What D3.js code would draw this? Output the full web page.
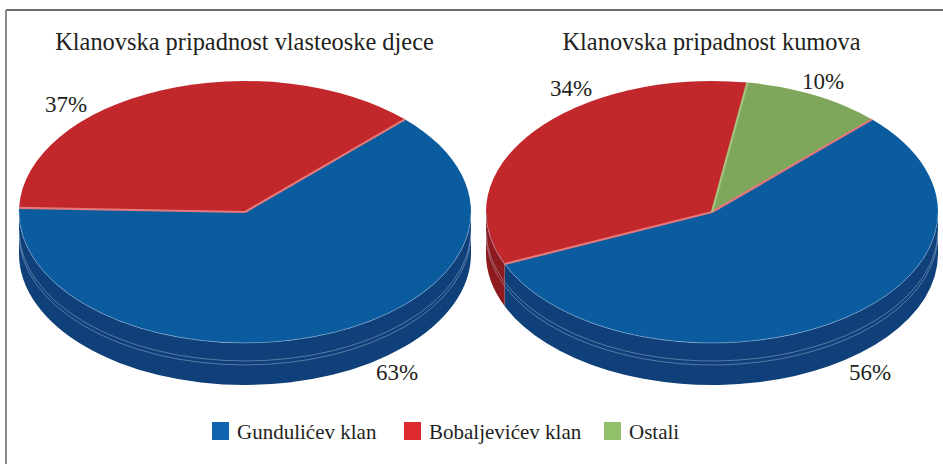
<!DOCTYPE html>
<html>
<head>
<meta charset="utf-8">
<script src="https://cdn.jsdelivr.net/npm/d3@7"></script>
<style>
  body { margin: 0; background: #fff; }
</style>
</head>
<body>
<div id="viz"></div>
<script>
// data
var categories = ["Gundulićev klan", "Bobaljevićev klan", "Ostali"];
var titles = ["Klanovska pripadnost vlasteoske djece", "Klanovska pripadnost kumova"];
var djeceValues = [63, 37, 0];
var kumovaValues = [56, 34, 10];

// colours
var topColors  = ["#0b5c9e", "#c1272b", "#7fa75b"];
var sideColors = ["#0f4079", "#8d1a1d", "#55783a"];
var legendColors = ["#1063af", "#dd2a2e", "#92c06a"];

// layout
var W = 943, H = 464;
var rx = 226, ry = 131, depth = 42, cy = 212;
var serif = "'Liberation Serif'";
var pies = [
  { cx: 245, values: djeceValues, title: titles[0],
    labels: [[397, 380], [66, 112], null] },
  { cx: 712, values: kumovaValues, title: titles[1],
    labels: [[870, 380], [571, 96], [823, 89]] }
];

var svg = d3.select("#viz").append("svg")
  .attr("width", W).attr("height", H);

// frame
svg.append("line").attr("x1", 6).attr("x2", W).attr("y1", 10).attr("y2", 10)
  .attr("stroke", "#3a3a3a").attr("stroke-width", 1.5);
svg.append("line").attr("x1", 6).attr("x2", 6).attr("y1", 10).attr("y2", H)
  .attr("stroke", "#8a8a8a").attr("stroke-width", 2);

var start = Math.PI / 4;
var pie = d3.pie().sort(null).startAngle(start).endAngle(start + 2 * Math.PI);

function pt(cx, a, dy) {
  return [cx + rx * Math.sin(a), cy - ry * Math.cos(a) + (dy || 0)];
}

function topPath(cx, a0, a1) {
  var p0 = pt(cx, a0), p1 = pt(cx, a1);
  var large = (a1 - a0) > Math.PI ? 1 : 0;
  return "M" + cx + "," + cy + "L" + p0 + "A" + rx + "," + ry + " 0 " + large + " 1 " + p1 + "Z";
}

function arcPath(cx, a0, a1, dy) {
  var p0 = pt(cx, a0, dy), p1 = pt(cx, a1, dy);
  return "M" + p0 + "A" + rx + "," + ry + " 0 0 1 " + p1;
}

function sidePath(cx, a0, a1) {
  var p0 = pt(cx, a0), p1 = pt(cx, a1);
  var q0 = pt(cx, a0, depth), q1 = pt(cx, a1, depth);
  return "M" + p0 + "A" + rx + "," + ry + " 0 0 1 " + p1 +
    "L" + q1 + "A" + rx + "," + ry + " 0 0 0 " + q0 + "Z";
}

// clip an angle range to the visible front half (PI/2 .. 3PI/2)
function frontParts(a0, a1) {
  var out = [];
  [-2 * Math.PI, 0, 2 * Math.PI].forEach(function (k) {
    var s = Math.max(a0 + k, Math.PI / 2), e = Math.min(a1 + k, 3 * Math.PI / 2);
    if (e > s) out.push([s, e]);
  });
  return out;
}

pies.forEach(function (p) {
  var g = svg.append("g");
  var arcs = pie(p.values);

  // outer walls
  arcs.forEach(function (d, i) {
    if (d.value === 0) return;
    frontParts(d.startAngle, d.endAngle).forEach(function (r) {
      g.append("path").attr("d", sidePath(p.cx, r[0], r[1]))
        .attr("fill", sideColors[i]);
      [18, 22].forEach(function (off) {
        g.append("path").attr("d", arcPath(p.cx, r[0], r[1], off))
          .attr("fill", "none").attr("stroke", "rgba(200,215,235,0.55)")
          .attr("stroke-width", 0.7);
      });
    });
  });

  // top faces
  arcs.forEach(function (d, i) {
    if (d.value === 0) return;
    g.append("path").attr("d", topPath(p.cx, d.startAngle, d.endAngle))
      .attr("fill", topColors[i]);
  });

  // light rim along the front edge of the top face
  arcs.forEach(function (d) {
    if (d.value === 0) return;
    frontParts(d.startAngle, d.endAngle).forEach(function (r) {
      g.append("path").attr("d", arcPath(p.cx, r[0], r[1], 0))
        .attr("fill", "none").attr("stroke", "rgba(170,195,230,0.6)")
        .attr("stroke-width", 0.8);
    });
  });

  // slice separators
  arcs.forEach(function (d, i) {
    if (d.value === 0) return;
    var e = pt(p.cx, d.startAngle);
    g.append("line").attr("x1", p.cx).attr("y1", cy).attr("x2", e[0]).attr("y2", e[1])
      .attr("stroke", i === 2 ? "#a6c27e" : "#e4787a").attr("stroke-width", 2.2);
  });

  // title
  g.append("text").attr("x", p.cx - 0.5).attr("y", 50).attr("text-anchor", "middle")
    .attr("font-family", serif).attr("fill", "#231f20")
    .attr("font-size", 24.4).text(p.title);

  // value labels
  arcs.forEach(function (d, i) {
    if (d.value === 0 || !p.labels[i]) return;
    g.append("text").attr("x", p.labels[i][0]).attr("y", p.labels[i][1])
      .attr("text-anchor", "middle").attr("font-size", 23)
      .attr("font-family", serif).attr("fill", "#231f20")
      .text(d.value + "%");
  });
});

// legend
var legendX = [212, 404, 604];
var lg = svg.append("g");
categories.forEach(function (c, i) {
  lg.append("rect").attr("x", legendX[i]).attr("y", 422).attr("width", 17).attr("height", 18)
    .attr("fill", legendColors[i]);
  lg.append("text").attr("x", legendX[i] + 25).attr("y", 439)
    .attr("font-family", serif).attr("fill", "#231f20")
    .attr("font-size", 21).text(c);
});
</script>
</body>
</html>
